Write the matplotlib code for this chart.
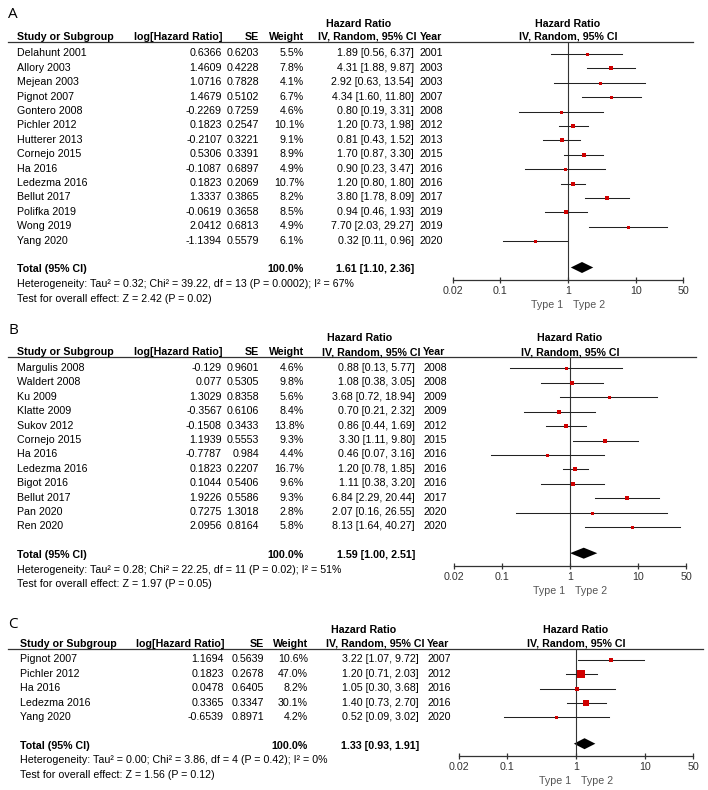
import matplotlib.pyplot as plt
from matplotlib.patches import Polygon
from matplotlib.ticker import NullLocator

plt.rcParams['font.family'] = ['Liberation Sans', 'DejaVu Sans']

W, H = 708, 790
FS = 7.7
RED = '#d00000'

# ---- Panel A: data
a_study = ['Delahunt 2001', 'Allory 2003', 'Mejean 2003', 'Pignot 2007', 'Gontero 2008',
           'Pichler 2012', 'Hutterer 2013', 'Cornejo 2015', 'Ha 2016', 'Ledezma 2016',
           'Bellut 2017', 'Polifka 2019', 'Wong 2019', 'Yang 2020']
a_loghr = [0.6366, 1.4609, 1.0716, 1.4679, -0.2269, 0.1823, -0.2107, 0.5306, -0.1087,
           0.1823, 1.3337, -0.0619, 2.0412, -1.1394]
a_se = [0.6203, 0.4228, 0.7828, 0.5102, 0.7259, 0.2547, 0.3221, 0.3391, 0.6897, 0.2069,
        0.3865, 0.3658, 0.6813, 0.5579]
a_weight = [5.5, 7.8, 4.1, 6.7, 4.6, 10.1, 9.1, 8.9, 4.9, 10.7, 8.2, 8.5, 4.9, 6.1]
a_hr = [1.89, 4.31, 2.92, 4.34, 0.80, 1.20, 0.81, 1.70, 0.90, 1.20, 3.80, 0.94, 7.70, 0.32]
a_lo = [0.56, 1.88, 0.63, 1.60, 0.19, 0.73, 0.43, 0.87, 0.23, 0.80, 1.78, 0.46, 2.03, 0.11]
a_hi = [6.37, 9.87, 13.54, 11.80, 3.31, 1.98, 1.52, 3.30, 3.47, 1.80, 8.09, 1.93, 29.27, 0.96]
a_year = [2001, 2003, 2003, 2007, 2008, 2012, 2013, 2015, 2016, 2016, 2017, 2019, 2019, 2020]
a_total = [1.61, 1.10, 2.36]
a_het = 'Heterogeneity: Tau² = 0.32; Chi² = 39.22, df = 13 (P = 0.0002); I² = 67%'
a_test = 'Test for overall effect: Z = 2.42 (P = 0.02)'

# ---- Panel B: data
b_study = ['Margulis 2008', 'Waldert 2008', 'Ku 2009', 'Klatte 2009', 'Sukov 2012',
           'Cornejo 2015', 'Ha 2016', 'Ledezma 2016', 'Bigot 2016', 'Bellut 2017',
           'Pan 2020', 'Ren 2020']
b_loghr = [-0.129, 0.077, 1.3029, -0.3567, -0.1508, 1.1939, -0.7787, 0.1823, 0.1044,
           1.9226, 0.7275, 2.0956]
b_se = [0.9601, 0.5305, 0.8358, 0.6106, 0.3433, 0.5553, 0.984, 0.2207, 0.5406, 0.5586,
        1.3018, 0.8164]
b_weight = [4.6, 9.8, 5.6, 8.4, 13.8, 9.3, 4.4, 16.7, 9.6, 9.3, 2.8, 5.8]
b_hr = [0.88, 1.08, 3.68, 0.70, 0.86, 3.30, 0.46, 1.20, 1.11, 6.84, 2.07, 8.13]
b_lo = [0.13, 0.38, 0.72, 0.21, 0.44, 1.11, 0.07, 0.78, 0.38, 2.29, 0.16, 1.64]
b_hi = [5.77, 3.05, 18.94, 2.32, 1.69, 9.80, 3.16, 1.85, 3.20, 20.44, 26.55, 40.27]
b_year = [2008, 2008, 2009, 2009, 2012, 2015, 2016, 2016, 2016, 2017, 2020, 2020]
b_total = [1.59, 1.00, 2.51]
b_het = 'Heterogeneity: Tau² = 0.28; Chi² = 22.25, df = 11 (P = 0.02); I² = 51%'
b_test = 'Test for overall effect: Z = 1.97 (P = 0.05)'

# ---- Panel C: data
c_study = ['Pignot 2007', 'Pichler 2012', 'Ha 2016', 'Ledezma 2016', 'Yang 2020']
c_loghr = [1.1694, 0.1823, 0.0478, 0.3365, -0.6539]
c_se = [0.5639, 0.2678, 0.6405, 0.3347, 0.8971]
c_weight = [10.6, 47.0, 8.2, 30.1, 4.2]
c_hr = [3.22, 1.20, 1.05, 1.40, 0.52]
c_lo = [1.07, 0.71, 0.30, 0.73, 0.09]
c_hi = [9.72, 2.03, 3.68, 2.70, 3.02]
c_year = [2007, 2012, 2016, 2016, 2020]
c_total = [1.33, 0.93, 1.91]
c_het = 'Heterogeneity: Tau² = 0.00; Chi² = 3.86, df = 4 (P = 0.42); I² = 0%'
c_test = 'Test for overall effect: Z = 1.56 (P = 0.12)'

ticks = [0.02, 0.1, 1, 10, 50]
tick_labels = ['0.02', '0.1', '1', '10', '50']

fig = plt.figure(figsize=(W / 100, H / 100), dpi=100)
base = fig.add_axes([0, 0, 1, 1])
base.set_xlim(0, W)
base.set_ylim(H, 0)
base.axis('off')


def draw_panel(letter, study, loghr, se, weight, hr, lo, hi, year, total, het, test, lay):
    row0, step = lay['row0'], 14.4
    n = len(study)
    rows = [row0 + i * step for i in range(n)]
    y_total = row0 + (n + 1) * step
    y_axis = y_total + 10.5

    base.text(8, lay['letter_y'], letter, fontsize=11, family='Open Sans', va='center')

    # column headers
    bold = dict(fontsize=FS, fontweight='bold', va='center')
    base.text(lay['hr_c'], lay['top_y'], 'Hazard Ratio', ha='center', **bold)
    hy = lay['head_y']
    base.text(lay['study_x'], hy, 'Study or Subgroup', ha='left', **bold)
    base.text(lay['log_r'], hy, 'log[Hazard Ratio]', ha='right', **bold)
    base.text(lay['se_r'], hy, 'SE', ha='right', **bold)
    base.text(lay['wt_r'], hy, 'Weight', ha='right', **bold)
    base.text(lay['iv_r'], hy, 'IV, Random, 95% CI', ha='right', **bold)
    base.text(lay['yr_l'], hy, 'Year', ha='left', **bold)
    base.plot([8, lay['line_end']], [lay['line_y']] * 2, color='#333333', lw=0.9)

    # study rows
    for i, y in enumerate(rows):
        base.text(lay['study_x'], y, study[i], fontsize=FS, va='center')
        base.text(lay['log_r'], y, str(loghr[i]), fontsize=FS, va='center', ha='right')
        base.text(lay['se_r'], y, str(se[i]), fontsize=FS, va='center', ha='right')
        base.text(lay['wt_r'], y, f'{weight[i]:.1f}%', fontsize=FS, va='center', ha='right')
        base.text(lay['ci_r'], y, f'{hr[i]:.2f} [{lo[i]:.2f}, {hi[i]:.2f}]',
                  fontsize=FS, va='center', ha='right')
        base.text(lay['yr_l'], y, str(year[i]), fontsize=FS, va='center')

    base.text(lay['study_x'], y_total, 'Total (95% CI)', ha='left', **bold)
    base.text(lay['wt_r'], y_total, '100.0%', ha='right', **bold)
    base.text(lay['ci_r'], y_total, f'{total[0]:.2f} [{total[1]:.2f}, {total[2]:.2f}]',
              ha='right', **bold)
    base.text(lay['study_x'], y_total + 14.5, het, fontsize=FS, va='center')
    base.text(lay['study_x'], y_total + 29, test, fontsize=FS, va='center')

    # forest plot
    x0, x1, top = lay['fx0'], lay['fx1'], lay['line_y']
    ax = fig.add_axes([x0 / W, 1 - y_axis / H, (x1 - x0) / W, (y_axis - top) / H])
    ax.patch.set_alpha(0)
    ax.set_xscale('log')
    ax.set_xlim(0.02, 50)
    ax.set_ylim(y_axis, top)
    for s in ['top', 'left', 'right']:
        ax.spines[s].set_visible(False)
    ax.spines['bottom'].set_color('#333333')
    ax.spines['bottom'].set_linewidth(0.9)
    ax.set_yticks([])
    ax.set_xticks(ticks)
    ax.set_xticklabels(tick_labels)
    ax.xaxis.set_minor_locator(NullLocator())
    ax.tick_params(axis='x', direction='inout', length=4, width=0.9, pad=2.2,
                   labelsize=FS, colors='#333333')
    ax.axvline(1, color='#333333', lw=0.8)

    for i, y in enumerate(rows):
        ax.plot([lo[i], hi[i]], [y + 0.5, y + 0.5], color='#222222', lw=0.75)
        side = max(1.1 * weight[i] ** 0.5, 3.0)
        ax.plot(hr[i], y + 0.5, marker='s', ms=side * 0.72, color=RED, mew=0, snap=False)

    yd = y_total - 2
    ax.add_patch(Polygon([(total[1], yd), (total[0], yd - 5.5), (total[2], yd),
                          (total[0], yd + 5.5)], closed=True, color='black', lw=0))

    ax.text(1, lay['top_y'], 'Hazard Ratio', ha='center', **bold)
    ax.text(1, hy, 'IV, Random, 95% CI', ha='center', **bold)
    ty = y_axis + 25
    ax.annotate('Type 1', xy=(1, ty), xytext=(-3.5, 0), textcoords='offset points',
                ha='right', va='center', fontsize=FS, color='#555555', annotation_clip=False)
    ax.annotate('Type 2', xy=(1, ty), xytext=(3.5, 0), textcoords='offset points',
                ha='left', va='center', fontsize=FS, color='#555555', annotation_clip=False)


draw_panel('A', a_study, a_loghr, a_se, a_weight, a_hr, a_lo, a_hi, a_year, a_total,
           a_het, a_test,
           dict(letter_y=15, top_y=24.3, head_y=36.7, line_y=42.3, row0=53.5, study_x=17,
                log_r=222, se_r=259, wt_r=304, ci_r=414, iv_r=417, yr_l=420, hr_c=359,
                line_end=693, fx0=453, fx1=683))
draw_panel('B', b_study, b_loghr, b_se, b_weight, b_hr, b_lo, b_hi, b_year, b_total,
           b_het, b_test,
           dict(letter_y=330, top_y=337.7, head_y=352.3, line_y=356.7, row0=368, study_x=17,
                log_r=222, se_r=259, wt_r=304, ci_r=415, iv_r=420, yr_l=423, hr_c=360,
                line_end=696, fx0=454, fx1=686))
draw_panel('C', c_study, c_loghr, c_se, c_weight, c_hr, c_lo, c_hi, c_year, c_total,
           c_het, c_test,
           dict(letter_y=624, top_y=630, head_y=644, line_y=649, row0=659.3, study_x=20,
                log_r=224, se_r=264, wt_r=308, ci_r=419, iv_r=424, yr_l=427, hr_c=364,
                line_end=703, fx0=459, fx1=693))

fig.savefig('out.png', dpi=100)
